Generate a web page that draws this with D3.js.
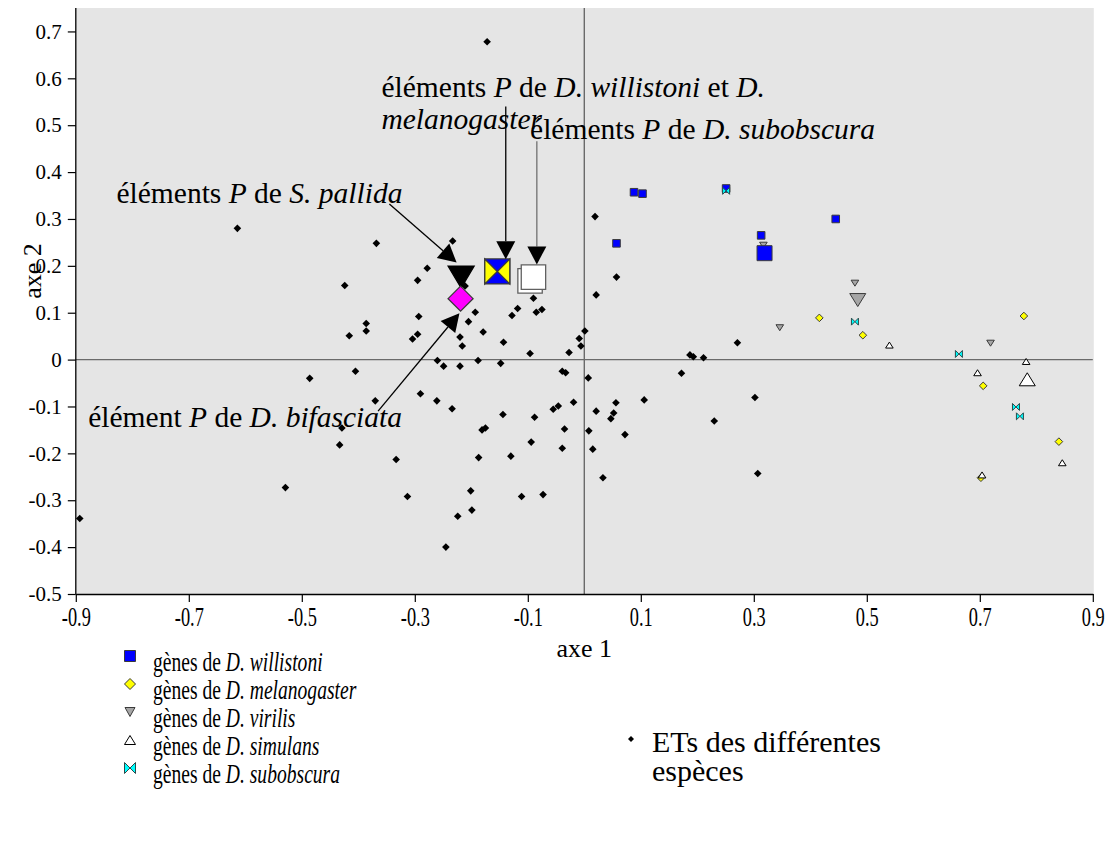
<!DOCTYPE html>
<html>
<head>
<meta charset="utf-8">
<script src="https://cdn.jsdelivr.net/npm/d3@7"></script>
<style>
body { margin: 0; background: #fff; }
svg text { font-family: "Liberation Serif", "Times New Roman", serif; fill: #000; }
</style>
</head>
<body>
<svg id="chart" width="1114" height="859"></svg>
<script>
// ETs des différentes espèces (axe 1, axe 2)
var etX = [-0.172, -0.614, -0.368, -0.233, -0.278, -0.295, -0.424, -0.211, -0.090, 0.019,
           0.021, -0.193, -0.118, -0.128, -0.085, -0.075, -0.293, -0.205, -0.386, -0.386,
           -0.416, -0.295, -0.304, -0.179, -0.220, -0.143, -0.216, 0.001, -0.009, -0.006,
           -0.096, -0.027, -0.260, -0.249, -0.220, -0.188, -0.148, -0.405, -0.039, -0.033,
           0.007, -0.290, -0.261, -0.370, -0.234, -0.144, -0.088, -0.055, -0.046, -0.019,
           0.021, -0.429, -0.181, -0.175, -0.035, 0.008, -0.433, -0.094, -0.039, 0.015,
           -0.333, -0.187, -0.130, -0.201, -0.313, -0.111, -0.073, -0.224, -0.199, -0.245,
           -0.486, -0.529, -0.893, 0.057, 0.271, 0.187, 0.193, 0.211, 0.172, 0.056,
           0.106, 0.052, 0.047, 0.302, 0.230, 0.072, 0.033, 0.307];
var etY = [0.678, 0.280, 0.248, 0.253, 0.195, 0.169, 0.158, 0.157, 0.131, 0.305,
           0.138, 0.101, 0.109, 0.094, 0.101, 0.107, 0.092, 0.081, 0.077, 0.061,
           0.051, 0.054, 0.044, 0.059, 0.048, 0.037, 0.029, 0.061, 0.045, 0.029,
           0.013, 0.015, -0.002, -0.014, -0.014, -0.002, -0.008, -0.025, -0.025, -0.028,
           -0.039, -0.073, -0.088, -0.088, -0.105, -0.117, -0.123, -0.106, -0.099, -0.091,
           -0.110, -0.146, -0.150, -0.146, -0.148, -0.152, -0.182, -0.176, -0.189, -0.191,
           -0.213, -0.209, -0.206, -0.280, -0.292, -0.292, -0.288, -0.334, -0.321, -0.400,
           -0.040, -0.273, -0.339, 0.176, 0.036, 0.010, 0.006, 0.004, -0.029, -0.092,
           -0.086, -0.114, -0.126, -0.081, -0.131, -0.160, -0.252, -0.243];

// gènes
var willistoniX = [0.088, 0.103, 0.251, 0.445, 0.313, 0.057];
var willistoniY = [0.357, 0.354, 0.365, 0.300, 0.265, 0.248];
var melanogasterX = [0.416, 0.493, 0.778, 0.706, 0.840, 0.702];
var melanogasterY = [0.089, 0.052, 0.093, -0.056, -0.175, -0.252];
var virilisX = [0.317, 0.479, 0.346, 0.719];
var virilisY = [0.244, 0.163, 0.068, 0.035];
var simulansX = [0.540, 0.696, 0.782, 0.846, 0.704];
var simulansY = [0.031, -0.028, -0.004, -0.220, -0.246];
var subobscuraX = [0.251, 0.479, 0.663, 0.764, 0.771];
var subobscuraY = [0.360, 0.081, 0.012, -0.101, -0.121];

// moyennes des gènes (gros symboles)
var meanNames = ["willistoni", "virilis", "simulans"];
var meanX = [0.319, 0.484, 0.784];
var meanY = [0.227, 0.127, -0.042];

// éléments P
var pNames = ["pallida", "willistoniMelanogaster", "subobscura2", "subobscura", "bifasciata"];
var pX = [-0.218, -0.154, -0.096, -0.090, -0.219];
var pY = [0.176, 0.188, 0.168, 0.176, 0.130];

var xTicks = [-0.9, -0.7, -0.5, -0.3, -0.1, 0.1, 0.3, 0.5, 0.7, 0.9];
var yTicks = [-0.5, -0.4, -0.3, -0.2, -0.1, 0, 0.1, 0.2, 0.3, 0.4, 0.5, 0.6, 0.7];

var serif = "'Liberation Serif', 'Times New Roman', serif";
var svg = d3.select("#chart");
var xScale = d3.scaleLinear().domain([-0.9, 0.9]).range([75.8, 1092.8]);
var yScale = d3.scaleLinear().domain([-0.5, 0.75]).range([594, 8]);

var fmt = function(d) { return d === 0 ? "0" : d3.format(".1f")(d).replace("\u2212", "-"); };

// fond gris
svg.append("rect")
    .attr("x", xScale(-0.9)).attr("y", yScale(0.75))
    .attr("width", xScale(0.9) - xScale(-0.9) + 1)
    .attr("height", yScale(-0.5) - yScale(0.75))
    .attr("fill", "#e5e5e5");

// lignes du zéro
svg.append("line")
    .attr("x1", xScale(-0.9)).attr("x2", xScale(0.9))
    .attr("y1", yScale(0)).attr("y2", yScale(0))
    .attr("stroke", "#6a6a6a").attr("stroke-width", 1.4);
svg.append("line")
    .attr("x1", xScale(0)).attr("x2", xScale(0))
    .attr("y1", yScale(0.75)).attr("y2", yScale(-0.5))
    .attr("stroke", "#6a6a6a").attr("stroke-width", 1.4);

// axes
var xAxis = svg.append("g")
    .attr("transform", "translate(0," + yScale(-0.5) + ")")
    .call(d3.axisBottom(xScale).tickValues(xTicks).tickFormat(fmt).tickSize(8).tickSizeOuter(0));
var yAxis = svg.append("g")
    .attr("transform", "translate(" + xScale(-0.9) + ",0)")
    .call(d3.axisLeft(yScale).tickValues(yTicks).tickFormat(fmt).tickSize(8).tickSizeOuter(0));

svg.selectAll(".domain").attr("stroke", "#000").attr("stroke-width", 1.3);
svg.selectAll(".tick line").attr("stroke", "#000").attr("stroke-width", 1.2);
yAxis.select(".domain").attr("d", "M0," + yScale(0.75) + "V" + yScale(-0.5));

yAxis.attr("font-family", null).attr("font-size", null);
xAxis.attr("font-family", null).attr("font-size", null);
yAxis.selectAll(".tick text")
    .style("font-family", serif).style("font-size", "21px").attr("x", -14);
xAxis.selectAll(".tick text")
    .style("font-family", serif).style("font-size", "27px")
    .attr("y", 0).attr("dy", 0)
    .attr("transform", "translate(0,32) scale(0.68,1)");

// symboles
var diamond = function(s) { return "M0," + (-s) + "L" + s + ",0L0," + s + "L" + (-s) + ",0Z"; };
var square = function(s) { return "M" + (-s) + "," + (-s) + "H" + s + "V" + s + "H" + (-s) + "Z"; };
var triDown = function(w, h) { return "M" + (-w) + "," + (-h / 2) + "H" + w + "L0," + (h / 2) + "Z"; };
var triUp = function(w, h) { return "M" + (-w) + "," + (h / 2) + "H" + w + "L0," + (-h / 2) + "Z"; };
var bowtie = function(s) {
    return "M" + (-s) + "," + (-s) + "L0,0L" + (-s) + "," + s + "Z" +
           "M" + s + "," + (-s) + "L0,0L" + s + "," + s + "Z";
};

var drawPoints = function(xs, ys, path, fill, stroke, sw)
{
    svg.append("g").selectAll("path").data(xs).enter().append("path")
        .attr("transform", function(d, i) { return "translate(" + xScale(d) + "," + yScale(ys[i]) + ")"; })
        .attr("d", path)
        .attr("fill", fill)
        .attr("stroke", stroke)
        .attr("stroke-width", sw);
};

drawPoints(etX, etY, diamond(3.8), "#000", "none", 0);
drawPoints(willistoniX, willistoniY, square(3.8), "#0000ff", "#3a3a3a", 1);
drawPoints(melanogasterX, melanogasterY, diamond(3.8), "#ffff00", "#3a3a3a", 1);
drawPoints(virilisX, virilisY, triDown(3.8, 6), "#a6a6a6", "#3a3a3a", 1);
drawPoints(simulansX, simulansY, triUp(3.8, 6), "#ffffff", "#000", 1);
drawPoints(subobscuraX, subobscuraY, bowtie(3.5), "#00ffff", "#2a4a4a", 1);

// moyennes
var meanShapes = {
    willistoni: { d: square(7.5), fill: "#0000ff", stroke: "#3a3a3a" },
    virilis: { d: triDown(8, 13), fill: "#a6a6a6", stroke: "#3a3a3a" },
    simulans: { d: triUp(8, 13), fill: "#ffffff", stroke: "#000" }
};
svg.append("g").selectAll("path").data(meanNames).enter().append("path")
    .attr("transform", function(d, i) { return "translate(" + xScale(meanX[i]) + "," + yScale(meanY[i]) + ")"; })
    .attr("d", function(d) { return meanShapes[d].d; })
    .attr("fill", function(d) { return meanShapes[d].fill; })
    .attr("stroke", function(d) { return meanShapes[d].stroke; })
    .attr("stroke-width", 1);

// éléments P
var pShapes = {
    pallida: [{ d: triDown(13, 22), fill: "#000", stroke: "#000" }],
    willistoniMelanogaster: [{ d: square(12.5), fill: "#0000ff", stroke: "#3a3a3a" },
                             { d: bowtie(12.5), fill: "#ffff00", stroke: "#3a3a3a" }],
    subobscura2: [{ d: square(12.2), fill: "#ffffff", stroke: "#606060" }],
    subobscura: [{ d: square(12.2), fill: "#ffffff", stroke: "#606060" }],
    bifasciata: [{ d: diamond(12.5), fill: "#ff00ff", stroke: "#3a3a3a" }]
};
pNames.forEach(function(name, i)
{
    pShapes[name].forEach(function(s)
    {
        svg.append("path")
            .attr("transform", "translate(" + xScale(pX[i]) + "," + yScale(pY[i]) + ")")
            .attr("d", s.d).attr("fill", s.fill)
            .attr("stroke", s.stroke).attr("stroke-width", 1.3);
    });
});

// flèches
var arrows = [
    { x1: -0.139, y1: 0.540, x2: -0.139, y2: 0.214, color: "#000" },
    { x1: -0.084, y1: 0.466, x2: -0.084, y2: 0.203, color: "#707070" },
    { x1: -0.345, y1: 0.332, x2: -0.226, y2: 0.207, color: "#000" },
    { x1: -0.365, y1: -0.110, x2: -0.221, y2: 0.099, color: "#000" }
];
arrows.forEach(function(a)
{
    var x1 = xScale(a.x1), y1 = yScale(a.y1), x2 = xScale(a.x2), y2 = yScale(a.y2);
    var ang = Math.atan2(y2 - y1, x2 - x1);
    var len = 18, hw = 9.5;
    var bx = x2 - len * Math.cos(ang), by = y2 - len * Math.sin(ang);
    svg.append("line")
        .attr("x1", x1).attr("y1", y1).attr("x2", bx).attr("y2", by)
        .attr("stroke", a.color).attr("stroke-width", 1.3);
    svg.append("path")
        .attr("d", "M" + x2 + "," + y2 +
            "L" + (bx + hw * Math.sin(ang)) + "," + (by - hw * Math.cos(ang)) +
            "L" + (bx - hw * Math.sin(ang)) + "," + (by + hw * Math.cos(ang)) + "Z")
        .attr("fill", "#000");
});

// textes avec italiques
var richText = function(x, y, parts, size, sx)
{
    var t = svg.append("text")
        .attr("transform", "translate(" + x + "," + y + ") scale(" + (sx || 1) + ",1)")
        .style("font-family", serif)
        .style("font-size", size + "px");
    parts.forEach(function(p)
    {
        t.append("tspan").attr("font-style", p[1] ? "italic" : "normal").text(p[0]);
    });
    return t;
};

var notes = [
    { x: -0.359, y: 0.560, parts: [["éléments ", 0], ["P", 1], [" de ", 0], ["D. willistoni", 1], [" et ", 0], ["D.", 1]] },
    { x: -0.359, y: 0.491, parts: [["melanogaster", 1]] },
    { x: -0.096, y: 0.4695, parts: [["éléments ", 0], ["P", 1], [" de ", 0], ["D. subobscura", 1]] },
    { x: -0.828, y: 0.333, parts: [["éléments ", 0], ["P", 1], [" de ", 0], ["S. pallida", 1]] },
    { x: -0.878, y: -0.144, parts: [["élément ", 0], ["P", 1], [" de ", 0], ["D. bifasciata", 1]] }
];
notes.forEach(function(n) { richText(xScale(n.x), yScale(n.y), n.parts, 29.5, 1); });

// titres des axes
svg.append("text").attr("x", xScale(0)).attr("y", 657)
    .attr("text-anchor", "middle").style("font-size", "26px").text("axe 1");
svg.append("text").attr("transform", "translate(41," + 271 + ") rotate(-90)")
    .attr("text-anchor", "middle").style("font-size", "26px").text("axe 2");

// légende
var legendNames = ["willistoni", "melanogaster", "virilis", "simulans", "subobscura"];
var legendShapes = [
    { d: square(5.5), fill: "#0000ff", stroke: "#3a3a3a" },
    { d: diamond(5.5), fill: "#ffff00", stroke: "#3a3a3a" },
    { d: triDown(5, 9), fill: "#a6a6a6", stroke: "#3a3a3a" },
    { d: triUp(5.5, 9), fill: "#ffffff", stroke: "#000" },
    { d: bowtie(5.5), fill: "#00ffff", stroke: "#2a4a4a" }
];
var legendY = d3.scaleLinear().domain([0, 4]).range([671, 783]);
legendNames.forEach(function(name, i)
{
    svg.append("path")
        .attr("transform", "translate(130," + (legendY(i) - 15) + ")")
        .attr("d", legendShapes[i].d).attr("fill", legendShapes[i].fill)
        .attr("stroke", legendShapes[i].stroke).attr("stroke-width", 1);
    richText(153, legendY(i), [["gènes de ", 0], ["D. " + name, 1]], 27, 0.725);
});
svg.append("path").attr("transform", "translate(631,739)")
    .attr("d", diamond(3)).attr("fill", "#000");
svg.append("text").attr("x", 652).attr("y", 752).style("font-size", "30px").text("ETs des différentes");
svg.append("text").attr("x", 652).attr("y", 781).style("font-size", "30px").text("espèces");
</script>
</body>
</html>
